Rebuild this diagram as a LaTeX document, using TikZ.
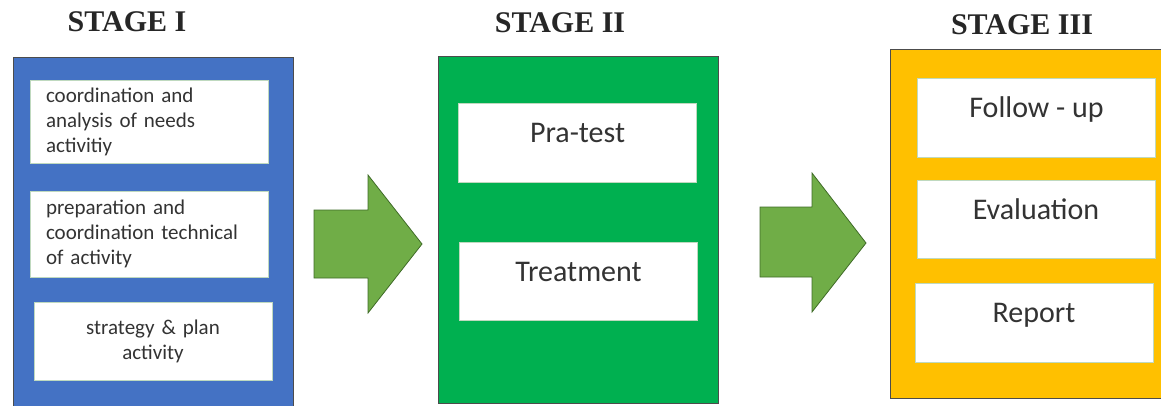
\documentclass[tikz,border=0pt]{standalone}
\usepackage{fontspec}
\setmainfont{Carlito}
\newfontfamily\titlefont{Liberation Serif}
\usepackage{tikz}
\usetikzlibrary{positioning}

\definecolor{stageblue}{HTML}{4472C4}
\definecolor{stagegreen}{HTML}{00B050}
\definecolor{stageyellow}{HTML}{FFC000}
\definecolor{arrowgreen}{HTML}{70AD47}
\definecolor{arrowedge}{HTML}{3F6B27}
\definecolor{textgray}{HTML}{333333}

\tikzset{
  stagetitle/.style={font=\titlefont\bfseries\fontsize{30}{33}\selectfont, text=black!85},
  item/.style={draw=green!25!gray!40, fill=white, line width=0.8pt, text=textgray,
    minimum width=238pt, minimum height=79pt, inner sep=0pt, align=center,
    text height=20pt, text depth=20pt, font=\fontsize{30}{36}\selectfont},
  smallitem/.style={item, font=\fontsize{21}{25}\selectfont, text width=206pt,
    text height=, text depth=},
  blockarrow/.style={fill=arrowgreen, draw=arrowedge, line width=0.8pt, line join=miter}
}

\begin{document}
\begin{tikzpicture}[x=1pt, y=-1pt]
    \useasboundingbox (0,0) rectangle (1161,405);
    \clip (0,0) rectangle (1161,405);

    % Stage I (blue)
    \node[stagetitle] (h1) at (127,22) {STAGE I};
    \draw[fill=stageblue, draw=black!70] (13,57) rectangle (293,412);
    \node[smallitem, align=left, minimum height=83pt] (a1) at (149,121.5)
        {coordination and\\analysis of needs\\activitiy};
    \node[smallitem, align=left, minimum height=86pt] (a2) at (149,234)
        {preparation and\\coordination technical\\of activity};
    \node[smallitem, minimum height=78pt] (a3) at (153,341)
        {strategy \& plan\\activity};

    % Arrow I -> II
    \draw[blockarrow] (314,210) -- (368,210) -- (368,175) -- (422,244)
        -- (368,313) -- (368,278) -- (314,278) -- cycle;

    % Stage II (green)
    \node[stagetitle] (h2) at (560,23) {STAGE II};
    \draw[fill=stagegreen, draw=black!70] (438,56) rectangle (718,403);
    \node[item] (b1) at (577.5,142.5) {Pra-test};
    \node[item, minimum height=78pt] (b2) at (578.5,281) {Treatment};

    % Arrow II -> III
    \draw[blockarrow] (760,207) -- (812,207) -- (812,173) -- (866,243)
        -- (812,312) -- (812,277) -- (760,277) -- cycle;

    % Stage III (yellow)
    \node[stagetitle] (h3) at (1022,25) {STAGE III};
    \draw[fill=stageyellow, draw=black!70] (890,49) rectangle (1170,398);
    \node[item] (c1) at (1036.5,117.5) {Follow - up};
    \node[item, minimum height=78pt] (c2) at (1036,219) {Evaluation};
    \node[item] (c3) at (1034,322.5) {Report};
\end{tikzpicture}
\end{document}
